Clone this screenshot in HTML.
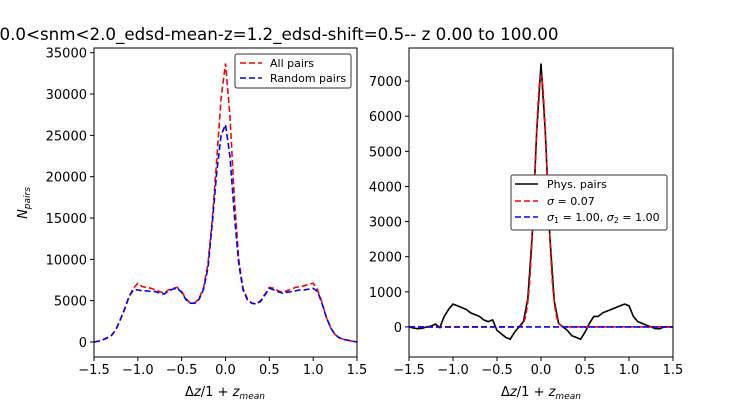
<!DOCTYPE html>
<html><head><meta charset="utf-8"><style>
body{margin:0;background:#fff;}
svg{display:block;font-family:"DejaVu Sans","Liberation Sans",sans-serif;}
</style></head><body>
<svg id="c" width="748" height="400" viewBox="0 0 748 400">
<rect width="748" height="400" fill="#fff"/>
<text x="279" y="40" text-anchor="middle" font-size="16.7">0.0&lt;snm&lt;2.0_edsd-mean-z=1.2_edsd-shift=0.5-- z 0.00 to 100.00</text>
<g id="left"></g>
<g id="right"></g>
<text transform="translate(27,203) rotate(-90)" text-anchor="middle" font-size="13" font-style="italic">N<tspan font-size="9" dy="3">pairs</tspan></text>
<text x="225" y="396" text-anchor="middle" font-size="13">Δ<tspan font-style="italic">z</tspan>/1 + <tspan font-style="italic">z</tspan><tspan font-size="9" dy="3" font-style="italic">mean</tspan></text>
<text x="541" y="396" text-anchor="middle" font-size="13">Δ<tspan font-style="italic">z</tspan>/1 + <tspan font-style="italic">z</tspan><tspan font-size="9" dy="3" font-style="italic">mean</tspan></text>
<g>
<rect x="235" y="54" width="116" height="34" rx="2" fill="#fff" stroke="#333" stroke-width="1"/>
<line x1="240" y1="63" x2="262" y2="63" stroke="red" stroke-width="1.6" stroke-dasharray="6,3"/>
<text x="270" y="67" font-size="11">All pairs</text>
<line x1="240" y1="78" x2="262" y2="78" stroke="blue" stroke-width="1.6" stroke-dasharray="6,3"/>
<text x="270" y="82" font-size="11">Random pairs</text>
</g>
<g>
<rect x="511" y="175" width="156" height="55" rx="2" fill="#fff" stroke="#333" stroke-width="1"/>
<line x1="515" y1="184" x2="538" y2="184" stroke="#000" stroke-width="1.6"/>
<text x="547" y="188" font-size="11">Phys. pairs</text>
<line x1="515" y1="201" x2="538" y2="201" stroke="red" stroke-width="1.6" stroke-dasharray="6,3"/>
<text x="547" y="205" font-size="11"><tspan font-style="italic">σ</tspan> =  0.07</text>
<line x1="515" y1="217" x2="538" y2="217" stroke="blue" stroke-width="1.6" stroke-dasharray="6,3"/>
<text x="547" y="221" font-size="11"><tspan font-style="italic">σ</tspan><tspan font-size="8" dy="2">1</tspan><tspan dy="-2"> =  1.00, </tspan><tspan font-style="italic">σ</tspan><tspan font-size="8" dy="2">2</tspan><tspan dy="-2"> =  1.00</tspan></text>
</g>
</svg>
<script>
const allPairs=[0,100,250,500,800,1500,2700,4000,5500,6500,7100,6700,6600,6500,6300,6100,5900,6300,6500,6600,6100,5200,4700,4700,5300,6600,9500,15000,22000,29500,33700,27500,17500,10000,6500,5200,4700,4600,5000,5800,6600,6500,6200,6000,6200,6400,6600,6700,6800,7000,7100,6300,4800,3000,1700,900,500,300,200,100,0];
const randomPairs=[0,100,250,500,800,1500,2700,4000,5500,6300,6300,6200,6200,6100,6100,5900,5800,6200,6400,6500,6000,5100,4700,4700,5200,6400,9000,14500,20500,25000,26300,22500,15500,9500,6300,5100,4700,4600,4900,5700,6500,6300,6100,5900,6000,6100,6200,6300,6300,6400,6500,6100,4700,3000,1700,900,500,300,200,100,0];
const physPairs=[0,-30,-50,-40,0,20,80,-20,300,500,650,600,550,500,400,350,300,200,150,200,-100,-200,-300,-350,-150,0,150,800,2600,5500,7500,5500,2600,750,100,0,-100,-250,-300,-350,-150,100,300,300,400,450,500,550,600,650,600,300,150,100,50,0,-50,-50,0,0,0];
const fitSigma=0.07, fitAmp=7150;
const xTicks=[-1.5,-1.0,-0.5,0.0,0.5,1.0,1.5];
const leftYTicks=[0,5000,10000,15000,20000,25000,30000,35000];
const rightYTicks=[0,1000,2000,3000,4000,5000,6000,7000];
const xs=allPairs.map((_,i)=>-1.5+i*0.05);
const NS='http://www.w3.org/2000/svg';
function mk(p,t,a){const e=document.createElementNS(NS,t);for(const k in a)e.setAttribute(k,a[k]);p.appendChild(e);return e;}
function panel(g,x0,x1,y0,y1,ymin,ymax,yt,name){
  const sx=v=>x0+(v+1.5)/3*(x1-x0), sy=v=>y1-(v-ymin)/(ymax-ymin)*(y1-y0);
  xTicks.forEach(t=>{const l=mk(g,'line',{x1:sx(t),x2:sx(t),y1:y1,y2:y1+4,stroke:'#000'});
    
    
    const tx=mk(g,'text',{x:sx(t),y:y1+17,'text-anchor':'middle','font-size':'13'});tx.textContent=t.toFixed(1).replace('-','−');
    
    });
  yt.forEach(t=>{const l=mk(g,'line',{x1:x0-4,x2:x0,y1:sy(t),y2:sy(t),stroke:'#000'});
    
    
    const tx=mk(g,'text',{x:x0-7,y:sy(t)+5,'text-anchor':'end','font-size':'13'});tx.textContent=t;
    
    });
  return {sx,sy,frame:()=>{const r=mk(g,'rect',{x:x0,y:y0,width:x1-x0,height:y1-y0,fill:'none',stroke:'#000'});
    
    }};
}
function line(g,xsArr,ys,P,st,dash,nm){
  const d=xsArr.map((x,i)=>(i?'L':'M')+P.sx(x).toFixed(1)+','+P.sy(ys[i]).toFixed(1)).join('');
  const a={d:d,fill:'none',stroke:st,'stroke-width':1.6};if(dash)a['stroke-dasharray']=dash;
  const p=mk(g,'path',a);
  
  
}
const L=document.getElementById('left'),R=document.getElementById('right');
const PL=panel(L,94,357,48,357,-1815,35570,leftYTicks,'left');
line(L,xs,allPairs,PL,'red','6,3','all-pairs-line');
line(L,xs,randomPairs,PL,'blue','6,3','random-pairs-line');
PL.frame();
const PR=panel(R,409,673,48,357,-857,7943,rightYTicks,'right');
line(R,xs,physPairs,PR,'#000',null,'phys-pairs-line');
const fx=[],fy=[];for(let i=0;i<=300;i++){const x=-1.5+i*0.01;fx.push(x);fy.push(fitAmp*Math.exp(-x*x/(2*fitSigma*fitSigma)));}
line(R,fx,fy,PR,'red','6,3','gaussian-fit-line');
line(R,[-1.5,1.5],[0,0],PR,'blue','6,3','double-gaussian-line');
PR.frame();
</script>
</body></html>
